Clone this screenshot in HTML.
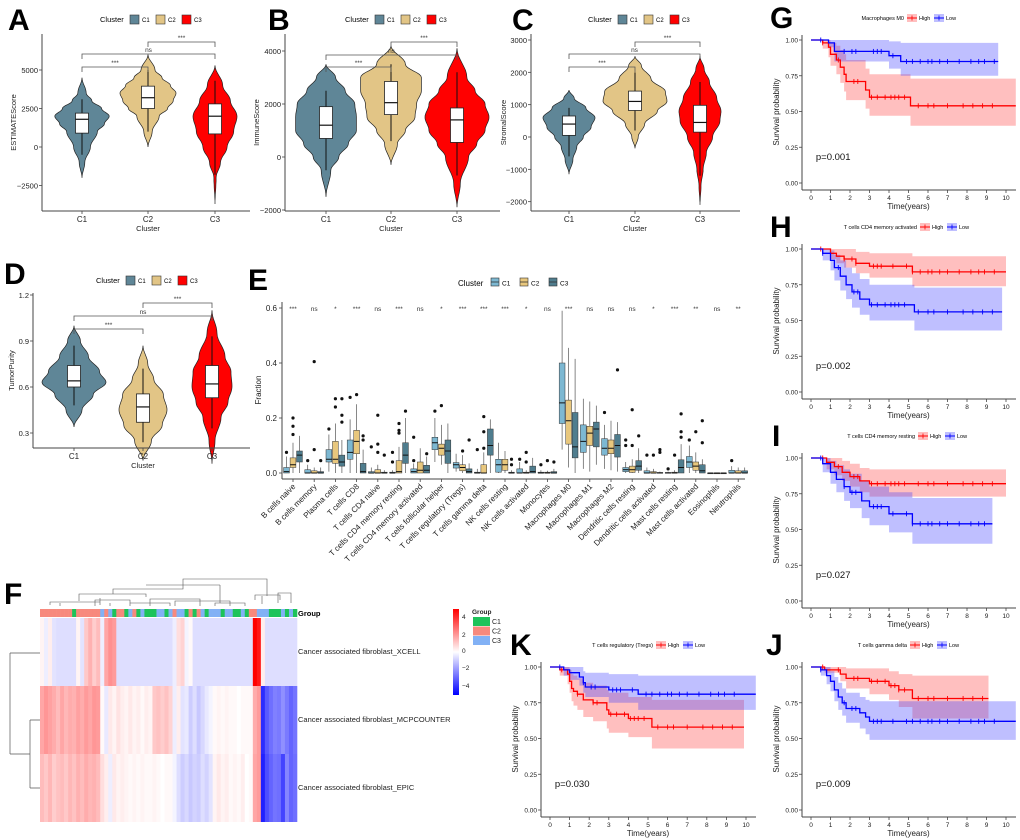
<!DOCTYPE html>
<html><head><meta charset="utf-8">
<style>
html,body{margin:0;padding:0;background:#fff;}
svg{display:block;font-family:"Liberation Sans",sans-serif;}
</style></head>
<body>
<svg id="fig" width="1020" height="840" viewBox="0 0 1020 840" xmlns="http://www.w3.org/2000/svg"></svg>
<script>
// ---------------- DATA ----------------
const clusters = ["C1","C2","C3"];
const aVals = [[-2000,-1000,0,1000,1500,2000,2500,3000,3500,4500],[0,1000,2000,2500,3000,3500,4000,4500,5000,6000],[-3700,-2000,-1000,0,1000,2000,3000,4000,5300]];
const aWid  = [[0,0.1,0.3,0.55,0.8,0.97,0.7,0.35,0.15,0],[0,0.15,0.4,0.7,0.9,1,0.8,0.5,0.25,0],[0,0.05,0.25,0.55,0.85,1,0.7,0.35,0]];
const aBox  = [[-500,900,1800,2200,3100],[1000,2500,3200,3950,5000],[-1800,850,2000,2800,4300]];
const bVals = [[-1500,-500,0,500,1000,1500,2000,2500,3000,3500],[-300,500,1000,1500,2000,2500,3000,3500,4200],[-1900,-1000,0,500,1000,1500,2000,2500,3000,4100]];
const bWid  = [[0,0.15,0.4,0.7,0.95,0.95,0.9,0.6,0.3,0],[0,0.2,0.45,0.75,0.8,0.95,0.95,0.45,0],[0,0.1,0.35,0.6,0.85,0.97,0.85,0.55,0.3,0]];
const bBox  = [[-500,700,1200,1900,2500],[600,1600,2050,2850,3500],[-700,550,1400,1850,3200]];
const cVals = [[-1150,-700,-300,0,300,600,900,1200,1450],[-350,0,400,800,1100,1400,1800,2200,2500],[-2100,-1500,-1000,-500,0,500,800,1200,1700,2100,2500]];
const cWid  = [[0,0.15,0.3,0.55,0.85,1,0.65,0.2,0],[0,0.1,0.3,0.7,1,0.95,0.5,0.2,0],[0,0.05,0.15,0.3,0.6,0.95,1,0.8,0.45,0.2,0]];
const cBox  = [[-600,50,400,650,900],[200,820,1100,1420,2000],[-1200,150,450,980,1700]];
const dVals = [[0.34,0.45,0.55,0.63,0.7,0.8,0.9,1.0],[0.12,0.25,0.35,0.45,0.55,0.65,0.75,0.87],[0.1,0.25,0.4,0.5,0.6,0.7,0.8,0.95,1.1]];
const dWid  = [[0,0.25,0.6,1,0.8,0.45,0.2,0],[0,0.35,0.8,1,0.85,0.45,0.2,0],[0,0.15,0.45,0.8,1,0.95,0.65,0.25,0]];
const dBox  = [[0.48,0.6,0.64,0.74,0.87],[0.24,0.37,0.47,0.555,0.72],[0.33,0.53,0.62,0.74,0.93]];

const cells = ["B cells naive","B cells memory","Plasma cells","T cells CD8","T cells CD4 naive","T cells CD4 memory resting","T cells CD4 memory activated","T cells follicular helper","T cells regulatory (Tregs)","T cells gamma delta","NK cells resting","NK cells activated","Monocytes","Macrophages M0","Macrophages M1","Macrophages M2","Dendritic cells resting","Dendritic cells activated","Mast cells resting","Mast cells activated","Eosinophils","Neutrophils"];
const sigE = ["***","ns","*","***","ns","***","ns","*","***","***","***","*","ns","***","ns","ns","ns","*","***","**","ns","**"];
const eC1 = [[0,0,0.005,0.02,0.06],[0,0,0,0.012,0.03],[0.005,0.04,0.05,0.085,0.14],[0,0.05,0.075,0.12,0.195],[0,0,0,0.005,0.02],[0,0,0,0.003,0.01],[0,0,0.005,0.015,0.035],[0.04,0.085,0.11,0.13,0.2],[0.005,0.018,0.03,0.038,0.07],[0,0,0,0.003,0.015],[0,0.003,0.03,0.05,0.11],[0,0,0,0.015,0.04],[0,0,0,0.003,0.01],[0.085,0.18,0.255,0.4,0.59],[0.015,0.075,0.115,0.175,0.27],[0.015,0.065,0.09,0.125,0.175],[0,0.005,0.012,0.02,0.04],[0,0,0,0.008,0.02],[0,0,0,0.002,0.005],[0,0.02,0.04,0.06,0.1],[0,0,0,0,0],[0,0,0,0.01,0.025]];
const eC2 = [[0,0.02,0.03,0.055,0.11],[0,0,0,0.008,0.02],[0,0.035,0.05,0.115,0.18],[0,0.07,0.115,0.155,0.25],[0,0,0,0.012,0.03],[0,0,0.005,0.045,0.095],[0,0,0.01,0.04,0.09],[0.03,0.065,0.09,0.105,0.175],[0,0.008,0.02,0.03,0.065],[0,0,0,0.03,0.075],[0,0.01,0.03,0.05,0.08],[0,0,0,0.003,0.01],[0,0,0,0.003,0.008],[0.02,0.105,0.19,0.265,0.455],[0.005,0.1,0.145,0.17,0.26],[0.01,0.07,0.09,0.12,0.19],[0,0.002,0.012,0.025,0.05],[0,0,0,0.005,0.015],[0,0,0,0.003,0.01],[0,0.01,0.025,0.04,0.075],[0,0,0,0,0],[0,0,0,0.008,0.02]];
const eC3 = [[0,0.04,0.065,0.08,0.135],[0,0,0,0.005,0.02],[0,0.025,0.04,0.065,0.12],[0,0,0.005,0.035,0.085],[0,0,0,0.003,0.01],[0,0.035,0.065,0.11,0.2],[0,0,0.01,0.028,0.06],[0,0.035,0.08,0.12,0.18],[0,0,0.005,0.015,0.035],[0,0.065,0.1,0.16,0.195],[0,0,0,0.003,0.01],[0,0,0.005,0.025,0.055],[0,0,0,0.005,0.015],[0,0.055,0.095,0.22,0.415],[0.03,0.095,0.16,0.185,0.245],[0.005,0.058,0.1,0.14,0.185],[0,0.01,0.025,0.045,0.09],[0,0,0,0.002,0.005],[0,0,0.02,0.048,0.105],[0,0,0.008,0.03,0.05],[0,0,0,0,0],[0,0,0,0.008,0.02]];
const eOut = [[0,0,0.075],[0,1,0.2],[0,1,0.17],[0,1,0.14],[1,0,0.045],[1,1,0.405],[1,1,0.085],[1,2,0.045],[2,0,0.16],[2,1,0.27],[2,1,0.24],[2,2,0.27],[2,2,0.21],[2,2,0.185],[3,0,0.275],[3,1,0.285],[3,2,0.135],[3,2,0.12],[4,0,0.095],[4,1,0.21],[4,1,0.105],[4,1,0.075],[4,2,0.065],[5,0,0.075],[5,0,0.04],[5,1,0.18],[5,1,0.155],[5,1,0.145],[5,2,0.225],[6,0,0.13],[6,0,0.045],[6,2,0.07],[7,0,0.225],[7,1,0.245],[8,2,0.12],[8,1,0.08],[9,0,0.085],[9,1,0.205],[9,1,0.15],[9,1,0.09],[10,2,0.05],[10,2,0.03],[11,0,0.05],[11,1,0.075],[11,1,0.04],[12,0,0.03],[12,1,0.045],[12,2,0.04],[15,0,0.22],[15,2,0.375],[16,0,0.12],[16,0,0.1],[16,1,0.23],[16,1,0.1],[16,2,0.135],[17,0,0.065],[17,1,0.065],[17,2,0.085],[17,2,0.075],[18,0,0.015],[18,1,0.065],[18,2,0.215],[18,2,0.15],[18,2,0.13],[19,0,0.12],[19,1,0.15],[19,2,0.19],[19,2,0.11],[21,0,0.045]];

const hmRows = ["Cancer associated fibroblast_XCELL","Cancer associated fibroblast_MCPCOUNTER","Cancer associated fibroblast_EPIC"];
const hmGroup = [2,2,2,2,2,2,2,2,1,2,2,2,2,2,2,3,2,3,1,2,2,1,3,2,1,3,1,1,1,3,3,1,3,2,3,3,1,2,1,2,3,1,3,3,3,1,3,3,1,1,3,1,2,2,3,3,3,1,1,1,3,1,3,1];
const hmXcell = [0.2,-0.3,0.3,-0.5,-0.6,-0.6,-0.6,-0.6,-0.6,0.2,-0.5,1.0,1.4,0.9,1.2,-0.3,1.6,2.0,1.8,-0.6,-0.6,-0.6,-0.6,-0.6,-0.6,-0.6,-0.6,-0.6,-0.6,-0.6,-0.6,-0.6,-0.6,-0.3,0.6,0.8,-0.2,0.1,-0.6,-0.6,-0.6,-0.6,-0.6,-0.6,-0.6,-0.6,-0.6,-0.6,-0.6,-0.6,-0.6,-0.6,-0.6,4.6,4.2,0.3,-0.6,-0.6,-0.6,-0.6,-0.6,-0.6,-0.6,-0.6];
const hmMcp = [1.6,1.9,1.7,1.5,1.2,1.6,1.3,1.5,1.4,1.7,1.5,1.8,1.6,1.9,1.8,0.1,-0.4,0.4,0.2,0.5,0.3,0.2,0.4,0.2,0.3,0.1,0.3,0.2,1.0,1.1,0.9,1.1,0.8,-0.3,0.3,-0.5,-0.4,-0.9,-0.6,-1.0,-0.7,-0.4,-0.2,0.1,0.2,0.1,0.2,0.1,0.1,0.0,0.1,0.1,0.1,1.5,1.8,-3.8,-3.0,-2.6,-2.3,-2.4,-2.0,-2.4,-2.8,-2.5];
const hmEpic = [1.2,1.0,1.3,0.9,1.1,1.2,1.0,1.3,1.1,1.4,1.2,1.5,1.3,1.4,1.2,0.6,0.3,-0.3,0.4,0.2,0.3,0.2,0.1,0.2,0.1,0.2,0.1,0.1,0.2,0.1,0.0,0.1,0.1,-0.2,-0.6,-0.9,-0.7,-1.0,-0.8,-0.9,-0.6,-0.8,-0.5,0.2,0.4,0.2,0.3,0.1,0.2,0.1,0.3,0.0,0.1,1.6,1.8,-4.0,-3.2,-2.8,-2.5,-2.6,-3.4,-2.2,-2.8,-2.6];

const gHighT=[0,0.6,0.9,1.0,1.3,1.5,1.7,1.8,2.8,3.0,5.1], gHighS=[1,0.98,0.95,0.9,0.86,0.81,0.76,0.71,0.65,0.6,0.54], gHighLo=[1,0.94,0.88,0.82,0.76,0.7,0.64,0.58,0.52,0.47,0.4], gHighHi=[1,1,1,0.98,0.96,0.93,0.9,0.86,0.8,0.76,0.73];
const gLowT=[0,0.9,1.2,4.0,4.6], gLowS=[1,0.98,0.92,0.89,0.85], gLowLo=[1,0.95,0.85,0.8,0.75], gLowHi=[1,1,1,0.99,0.98];
const hHighT=[0,1.0,1.3,1.7,2.3,3.0,5.2], hHighS=[1,0.97,0.95,0.93,0.9,0.88,0.84], hHighLo=[1,0.93,0.9,0.87,0.83,0.8,0.74], hHighHi=[1,1,1,1,0.98,0.97,0.95];
const hLowT=[0,0.6,1.0,1.2,1.5,1.8,2.1,2.5,3.0,5.3], hLowS=[1,0.97,0.92,0.87,0.81,0.75,0.7,0.65,0.61,0.56], hLowLo=[1,0.92,0.85,0.78,0.71,0.65,0.59,0.54,0.5,0.43], hLowHi=[1,1,0.99,0.96,0.92,0.87,0.83,0.79,0.75,0.73];
const iHighT=[0,0.8,1.2,1.6,2.0,2.5,3.0], iHighS=[1,0.97,0.94,0.9,0.87,0.84,0.82], iHighLo=[1,0.92,0.88,0.84,0.8,0.76,0.73], iHighHi=[1,1,1,0.98,0.96,0.93,0.92];
const iLowT=[0,0.6,1.0,1.3,1.7,2.0,2.6,3.0,4.0,5.2], iLowS=[1,0.96,0.9,0.85,0.8,0.76,0.7,0.66,0.61,0.54], iLowLo=[1,0.9,0.82,0.76,0.7,0.65,0.58,0.53,0.48,0.4], iLowHi=[1,1,0.98,0.95,0.92,0.89,0.84,0.8,0.76,0.72];
const jHighT=[0,0.7,1.5,1.8,3.0,4.0,4.5,5.2], jHighS=[1,0.98,0.95,0.92,0.9,0.87,0.84,0.78], jHighLo=[1,0.96,0.9,0.85,0.81,0.77,0.72,0.64], jHighHi=[1,1,1,0.99,0.99,0.97,0.95,0.94];
const jLowT=[0,0.5,0.8,1.0,1.2,1.4,1.6,1.8,2.5,2.8,3.0], jLowS=[1,0.98,0.94,0.9,0.84,0.79,0.75,0.71,0.68,0.65,0.62], jLowLo=[1,0.94,0.88,0.83,0.76,0.7,0.66,0.61,0.57,0.53,0.49], jLowHi=[1,1,1,0.97,0.93,0.89,0.85,0.82,0.79,0.77,0.76];
const kHighT=[0,0.5,0.9,1.0,1.1,1.2,1.4,1.7,2.2,2.9,3.0,4.0,5.2], kHighS=[1,0.98,0.95,0.9,0.85,0.83,0.81,0.77,0.75,0.7,0.67,0.64,0.58], kHighLo=[1,0.94,0.88,0.82,0.76,0.73,0.7,0.65,0.62,0.57,0.54,0.51,0.43], kHighHi=[1,1,1,0.98,0.95,0.94,0.92,0.89,0.87,0.84,0.82,0.79,0.77];
const kLowT=[0,0.7,1.0,1.5,1.7,1.8,3.0,4.5], kLowS=[1,0.98,0.96,0.93,0.89,0.86,0.84,0.81], kLowLo=[1,0.94,0.91,0.87,0.82,0.79,0.75,0.7], kLowHi=[1,1,1,1,0.97,0.96,0.95,0.94];
const censorA=[0.6,1.4,2.2,2.4,3.1,3.4,3.8,4.1,4.3,4.5,4.8,5.5,6.0,6.3,7.0,7.8,8.3,8.8,9.3];
const censorB=[0.5,1.7,2.1,2.3,3.2,3.4,3.6,4.2,4.9,5.2,5.6,6.0,6.2,6.6,7.0,7.6,8.2,8.6,8.9,9.4];

// ---------------- DRAWING ----------------
const NS="http://www.w3.org/2000/svg";
const svg=document.getElementById('fig');
function mk(tag,attrs,name,parent){
  const el=document.createElementNS(NS,tag);
  for(const k in attrs) el.setAttribute(k,attrs[k]);
  
  
  (parent||svg).appendChild(el);
  return el;
}
function txt(x,y,s,size,name,opts){
  opts=opts||{};
  const t=mk('text',{x:x,y:y,'font-size':size,fill:opts.fill||'#000','text-anchor':opts.anchor||'start','font-weight':opts.bold?'bold':'normal'},name,opts.parent);
  if(opts.rot!==undefined) t.setAttribute('transform','rotate('+opts.rot+' '+x+' '+y+')');
  t.textContent=s; return t;
}
function line(x1,y1,x2,y2,name,stroke,w,parent){return mk('line',{x1:x1,y1:y1,x2:x2,y2:y2,stroke:stroke||'#333','stroke-width':w||1},name,parent);}

const vColors=["#5F8697","#E2C586","#FF0000"];
function violinPanel(cfg){
  const g=mk('g',{},'panel-'+cfg.id);
  const y=v=>cfg.y0+(v-cfg.v0)*(cfg.y1-cfg.y0)/(cfg.v1-cfg.v0);
  txt(cfg.lx,cfg.ly,cfg.id,30,'panel-label-'+cfg.id,{bold:true,parent:g});
  const lg=mk('g',{},'legend',g);
  txt(cfg.legX,cfg.legY+3,'Cluster',7.5,'legend-title',{parent:lg});
  clusters.forEach((c,i)=>{
    const bx=cfg.legX+30+i*26;
    mk('rect',{x:bx,y:cfg.legY-4,width:9,height:9,fill:vColors[i],stroke:'#333','stroke-width':0.6},'legend-swatch-'+c,lg);
    txt(bx+12,cfg.legY+3,c,6,'legend-label-'+c,{parent:lg});
  });
  clusters.forEach((c,i)=>{
    const cx=cfg.xs[i], vals=cfg.vals[i], w=cfg.wid[i];
    const pts=[];
    for(let k=0;k<vals.length-1;k++){
      for(let s=0;s<8;s++){
        const f=s/8, e=(1-Math.cos(Math.PI*f))/2;
        pts.push([vals[k]+(vals[k+1]-vals[k])*f, w[k]+(w[k+1]-w[k])*e]);
      }
    }
    pts.push([vals[vals.length-1],w[w.length-1]]);
    let d='';
    pts.forEach((p,j)=>{d+=(j?'L':'M')+(cx+p[1]*cfg.hw[i]).toFixed(1)+','+y(p[0]).toFixed(1);});
    for(let j=pts.length-1;j>=0;j--){const p=pts[j];d+='L'+(cx-p[1]*cfg.hw[i]).toFixed(1)+','+y(p[0]).toFixed(1);}
    mk('path',{d:d+'Z',fill:vColors[i],stroke:'#222','stroke-width':0.7},'violin-'+c,g);
    const b=cfg.box[i];
    line(cx,y(b[0]),cx,y(b[4]),'whisker-'+c,'#111',1,g);
    mk('rect',{x:cx-6.5,y:y(b[3]),width:13,height:y(b[1])-y(b[3]),fill:'#fff',stroke:'#222','stroke-width':0.8},'box-'+c,g);
    line(cx-6.5,y(b[2]),cx+6.5,y(b[2]),'median-'+c,'#111',1.2,g);
  });
  const br=[[0,1,cfg.br[0],'***'],[0,2,cfg.br[1],'ns'],[1,2,cfg.br[2],'***']];
  br.forEach(b=>{
    const x1=cfg.xs[b[0]],x2=cfg.xs[b[1]],yy=b[2];
    mk('path',{d:`M${x1},${yy+5}V${yy}H${x2}V${yy+5}`,fill:'none',stroke:'#555','stroke-width':0.8},'significance-bracket',g);
    txt((x1+x2)/2,yy-2,b[3],6.5,'significance-label',{anchor:'middle',fill:'#333',parent:g});
  });
  line(cfg.ax,cfg.yTop,cfg.ax,cfg.axY,'y-axis','#444',1,g);
  line(cfg.ax,cfg.axY,cfg.axR,cfg.axY,'x-axis','#444',1,g);
  cfg.ticks.forEach(t=>{
    line(cfg.ax-3,y(t),cfg.ax,y(t),'y-tick','#444',0.8,g);
    txt(cfg.ax-4,y(t)+3,cfg.tickLab?cfg.tickLab(t):String(t).replace('-','−'),7.5,'y-tick-label',{anchor:'end',fill:'#222',parent:g});
  });
  clusters.forEach((c,i)=>{
    line(cfg.xs[i],cfg.axY,cfg.xs[i],cfg.axY+3,'x-tick','#444',0.8,g);
    txt(cfg.xs[i],cfg.axY+11,c,8,'x-tick-label',{anchor:'middle',fill:'#222',parent:g});
  });
  txt((cfg.xs[1]),cfg.axY+20,'Cluster',7.5,'x-axis-title',{anchor:'middle',fill:'#222',parent:g});
  const ty=(cfg.yTop+cfg.axY)/2;
  txt(cfg.ttx,ty,cfg.title,7.5,'y-axis-title',{anchor:'middle',rot:-90,fill:'#222',parent:g});
}
violinPanel({id:'A',lx:8,ly:30,legX:100,legY:19,xs:[82,148,215],hw:[28,28,22],vals:aVals,wid:aWid,box:aBox,v0:0,y0:147,v1:5000,y1:70,br:[67,54,42],ax:42,axR:250,axY:211,yTop:34,ticks:[-2500,0,2500,5000],ttx:16,title:'ESTIMATEScore'});
violinPanel({id:'B',lx:268,ly:30,legX:345,legY:19,xs:[326,391,457],hw:[32,32,33],vals:bVals,wid:bWid,box:bBox,v0:0,y0:157,v1:4000,y1:51,br:[67,55,42],ax:285,axR:500,axY:211,yTop:34,ticks:[-2000,0,2000,4000],ttx:259,title:'ImmuneScore'});
violinPanel({id:'C',lx:512,ly:30,legX:588,legY:19,xs:[569,635,700],hw:[26,32,21],vals:cVals,wid:cWid,box:cBox,v0:0,y0:137,v1:3000,y1:40,br:[67,54,42],ax:531,axR:740,axY:211,yTop:34,ticks:[-2000,-1000,0,1000,2000,3000],ttx:506,title:'StromalScore'});
violinPanel({id:'D',lx:4,ly:284,legX:96,legY:280,xs:[74,143,212],hw:[32,24,20],vals:dVals,wid:dWid,box:dBox,v0:0.3,y0:433,v1:1.2,y1:295,br:[329,316,303],ax:33,axR:250,axY:448,yTop:293,ticks:[0.3,0.6,0.9,1.2],tickLab:t=>t.toFixed(1),ttx:14,title:'TumorPurity'});

(function(){
  const g=mk('g',{},'panel-E');
  const eColors=["#7DB8D2","#E8C77D","#4F7D8E"];
  const ex=i=>293+i*21.2;
  const ey=v=>473-v*275;
  txt(248,290,'E',30,'panel-label-E',{bold:true,parent:g});
  const lg=mk('g',{},'legend',g);
  txt(458,286,'Cluster',8,'legend-title',{parent:lg});
  clusters.forEach((c,i)=>{
    const bx=491+i*29;
    mk('rect',{x:bx,y:278,width:8,height:8,fill:eColors[i],stroke:'#333','stroke-width':0.6},'legend-swatch-'+c,lg);
    line(bx,282,bx+8,282,'legend-median','#333',0.8,lg);
    txt(bx+11,285.5,c,6.5,'legend-label-'+c,{parent:lg});
  });
  line(282,302,282,479,'y-axis','#444',1,g);
  line(282,479,745,479,'x-axis','#444',1,g);
  [0,0.2,0.4,0.6].forEach(t=>{
    line(279,ey(t),282,ey(t),'y-tick','#444',0.8,g);
    txt(277,ey(t)+3,t.toFixed(1),8,'y-tick-label',{anchor:'end',fill:'#222',parent:g});
  });
  txt(261,390,'Fraction',8,'y-axis-title',{anchor:'middle',rot:-90,fill:'#222',parent:g});
  const all=[eC1,eC2,eC3];
  cells.forEach((c,i)=>{
    const cx=ex(i);
    all.forEach((arr,k)=>{
      const b=arr[i], bx=cx+(k-1)*6.5;
      line(bx,ey(b[0]),bx,ey(b[4]),'whisker-'+c,'#555',0.7,g);
      mk('rect',{x:bx-2.9,y:ey(b[3]),width:5.8,height:Math.max(0.8,ey(b[1])-ey(b[3])),fill:eColors[k],stroke:'#333','stroke-width':0.5},'box-'+c+'-'+clusters[k],g);
      line(bx-2.9,ey(b[2]),bx+2.9,ey(b[2]),'median','#111',1,g);
    });
    txt(cx,311,sigE[i],6.5,'significance-label',{anchor:'middle',fill:'#333',parent:g});
    line(cx,479,cx,482,'x-tick','#444',0.8,g);
    txt(cx+3,487,c,8,'x-tick-label',{anchor:'end',rot:-45,fill:'#222',parent:g});
  });
  eOut.forEach(o=>{
    mk('circle',{cx:ex(o[0])+(o[1]-1)*6.5,cy:ey(o[2]),r:1.6,fill:'#111'},'outlier-point',g);
  });
})();

(function(){
  const g=mk('g',{},'panel-F');
  txt(4,604,'F',30,'panel-label-F',{bold:true,parent:g});
  const hx0=40, cw=257/hmGroup.length;
  const rowsY=[618,686,754], rh=68;
  const col=v=>{const t=Math.max(-1,Math.min(1,v/4.6));
    if(t>=0){const c=Math.round(255*(1-t));return `rgb(255,${c},${c})`;}
    const c=Math.round(255*(1+t));return `rgb(${c},${c},255)`;};
  const gcol={1:'#1DC35A',2:'#F7897D',3:'#82B1F5'};
  hmGroup.forEach((gr,j)=>{
    mk('rect',{x:hx0+j*cw,y:609,width:cw+0.3,height:8,fill:gcol[gr]},'group-annotation-cell',g);
  });
  [hmXcell,hmMcp,hmEpic].forEach((row,r)=>{
    row.forEach((v,j)=>{
      mk('rect',{x:hx0+j*cw,y:rowsY[r],width:cw+0.3,height:rh,fill:col(v)},'heatmap-cell',g);
    });
    txt(298,rowsY[r]+36,hmRows[r],7.5,'row-label',{fill:'#222',parent:g});
  });
  txt(298,616,'Group',7.5,'annotation-label',{bold:true,parent:g});
  mk('path',{d:'M10,653H40M10,653V754M10,754H30M30,720H40M30,788H40M30,720V788',fill:'none',stroke:'#555','stroke-width':0.7},'row-dendrogram',g);
  mk('path',{d:'M113,594V589H183V579H267V596M146,585H220M220,585V603M255,600V595H280V600M262,604V596M278,603V593H291V603M50,605V602H100V605M100,602V598M60,606V603M95,606V600H130V606M130,603H170V606M150,606V599H200V606M175,606V601H230V606M215,606V603H245V606M110,606V603M170,606V604M79,601V594H146V597',fill:'none',stroke:'#555','stroke-width':0.6},'column-dendrogram',g);
  const defs=mk('defs',{},'defs',g);
  const grad=mk('linearGradient',{id:'hmgrad',x1:0,y1:0,x2:0,y2:1},'colorbar-gradient',defs);
  [['0%','#FF0000'],['50%','#FFFFFF'],['100%','#0000FF']].forEach(s=>mk('stop',{offset:s[0],'stop-color':s[1]},'gradient-stop',grad));
  mk('rect',{x:453,y:609,width:6,height:86,fill:'url(#hmgrad)'},'colorbar',g);
  [[4,617],[2,635],[0,651],[-2,668],[-4,686]].forEach(t=>txt(462,t[1]+2,String(t[0]).replace('-','−'),6.5,'colorbar-tick-label',{fill:'#222',parent:g}));
  txt(472,614,'Group',6.5,'group-legend-title',{bold:true,fill:'#222',parent:g});
  ['C1','C2','C3'].forEach((c,i)=>{
    mk('rect',{x:473,y:617+i*9.5,width:17,height:9,fill:gcol[i+1]},'group-legend-swatch-'+c,g);
    txt(492,624+i*9.5,c,7,'group-legend-label-'+c,{fill:'#222',parent:g});
  });
})();

function kmPanel(cfg){
  const g=mk('g',{},'panel-'+cfg.id);
  const X=t=>cfg.x0+t*(cfg.x10-cfg.x0)/10;
  const Y=s=>cfg.yTop+(1-s)*143;
  txt(cfg.lx,cfg.ly,cfg.id,30,'panel-label-'+cfg.id,{bold:true,parent:g});
  const series=[['High','#FF0000','rgba(255,60,60,0.33)',cfg.high],['Low','#0000FF','rgba(60,60,255,0.33)',cfg.low]];
  series.forEach(sr=>{
    const nm=sr[0], fillc=sr[2], d=sr[3]; const T=d[0],Lo=d[2],Hi=d[3],end=d[4];
    let up='',lo='';
    for(let i=0;i<T.length;i++){
      const t1=i<T.length-1?T[i+1]:end;
      up+=(i?'L':'M')+X(T[i]).toFixed(1)+','+Y(Hi[i]).toFixed(1)+'L'+X(t1).toFixed(1)+','+Y(Hi[i]).toFixed(1);
    }
    for(let i=T.length-1;i>=0;i--){
      const t1=i<T.length-1?T[i+1]:end;
      lo+='L'+X(t1).toFixed(1)+','+Y(Lo[i]).toFixed(1)+'L'+X(T[i]).toFixed(1)+','+Y(Lo[i]).toFixed(1);
    }
    mk('path',{d:up+lo+'Z',fill:fillc,stroke:'none'},'ci-band-'+nm.toLowerCase(),g);
  });
  series.forEach(sr=>{
    const nm=sr[0], colr=sr[1], d=sr[3]; const T=d[0],S=d[1],end=d[4],cens=d[5];
    let p='M'+X(0)+','+Y(1);
    for(let i=1;i<T.length;i++){p+='H'+X(T[i]).toFixed(1)+'V'+Y(S[i]).toFixed(1);}
    p+='H'+X(end).toFixed(1);
    mk('path',{d:p,fill:'none',stroke:colr,'stroke-width':1.3},'survival-curve-'+nm.toLowerCase(),g);
    cens.filter(t=>t<end).forEach(t=>{
      let s=1; for(let i=0;i<T.length;i++) if(T[i]<=t) s=S[i];
      line(X(t),Y(s)-2.5,X(t),Y(s)+2.5,'censor-mark',colr,0.9,g);
    });
  });
  line(cfg.ax,cfg.yTop-5,cfg.ax,cfg.yTop+150,'y-axis','#444',1,g);
  line(cfg.ax,cfg.yTop+150,cfg.x10+10,cfg.yTop+150,'x-axis','#444',1,g);
  [0,0.25,0.5,0.75,1].forEach(s=>{
    line(cfg.ax-3,Y(s),cfg.ax,Y(s),'y-tick','#444',0.8,g);
    txt(cfg.ax-4,Y(s)+2.5,s.toFixed(2),6.5,'y-tick-label',{anchor:'end',fill:'#222',parent:g});
  });
  for(let t=0;t<=10;t++){
    line(X(t),cfg.yTop+150,X(t),cfg.yTop+153,'x-tick','#444',0.8,g);
    txt(X(t),cfg.yTop+160,String(t),6.5,'x-tick-label',{anchor:'middle',fill:'#222',parent:g});
  }
  txt(X(5),cfg.yTop+169,'Time(years)',8,'x-axis-title',{anchor:'middle',fill:'#222',parent:g});
  txt(cfg.ax-23,cfg.yTop+72,'Survival probability',8,'y-axis-title',{anchor:'middle',rot:-90,fill:'#222',parent:g});
  txt(X(0.25),cfg.yTop+120,cfg.p,9.5,'p-value',{fill:'#111',parent:g});
  const lg=mk('g',{},'legend',g);
  txt(cfg.legX,cfg.yTop-20,cfg.title,5.5,'legend-title',{anchor:'end',parent:lg});
  [['High','#FF0000','rgba(255,60,60,0.33)'],['Low','#0000FF','rgba(60,60,255,0.33)']].forEach((s,i)=>{
    const bx=cfg.legX+3+i*27;
    mk('rect',{x:bx,y:cfg.yTop-26,width:10,height:8,fill:s[2]},'legend-key-'+s[0].toLowerCase(),lg);
    line(bx,cfg.yTop-22,bx+10,cfg.yTop-22,'legend-line',s[1],1,lg);
    line(bx+5,cfg.yTop-24.5,bx+5,cfg.yTop-19.5,'legend-cross',s[1],0.8,lg);
    txt(bx+12,cfg.yTop-20,s[0],5.5,'legend-label-'+s[0].toLowerCase(),{parent:lg});
  });
}
kmPanel({id:'G',lx:770,ly:28,ax:802,x0:811,x10:1006,yTop:40,legX:904,title:'Macrophages M0',p:'p=0.001',
  high:[gHighT,gHighS,gHighLo,gHighHi,10.5,censorA],low:[gLowT,gLowS,gLowLo,gLowHi,9.6,censorB]});
kmPanel({id:'H',lx:770,ly:237,ax:802,x0:811,x10:1006,yTop:249,legX:917,title:'T cells CD4 memory activated',p:'p=0.002',
  high:[hHighT,hHighS,hHighLo,hHighHi,10,censorB],low:[hLowT,hLowS,hLowLo,hLowHi,9.8,censorA]});
kmPanel({id:'I',lx:772,ly:446,ax:802,x0:811,x10:1006,yTop:458,legX:915,title:'T cells CD4 memory resting',p:'p=0.027',
  high:[iHighT,iHighS,iHighLo,iHighHi,10,censorA],low:[iLowT,iLowS,iLowLo,iLowHi,9.3,censorB]});
kmPanel({id:'J',lx:766,ly:655,ax:802,x0:811,x10:1006,yTop:667,legX:907,title:'T cells gamma delta',p:'p=0.009',
  high:[jHighT,jHighS,jHighLo,jHighHi,9.1,censorA],low:[jLowT,jLowS,jLowLo,jLowHi,10.5,censorB]});
kmPanel({id:'K',lx:510,ly:655,ax:541,x0:550,x10:746,yTop:667,legX:653,title:'T cells regulatory (Tregs)',p:'p=0.030',
  high:[kHighT,kHighS,kHighLo,kHighHi,9.9,censorA],low:[kLowT,kLowS,kLowLo,kLowHi,10.5,censorB]});
</script>
</body></html>
